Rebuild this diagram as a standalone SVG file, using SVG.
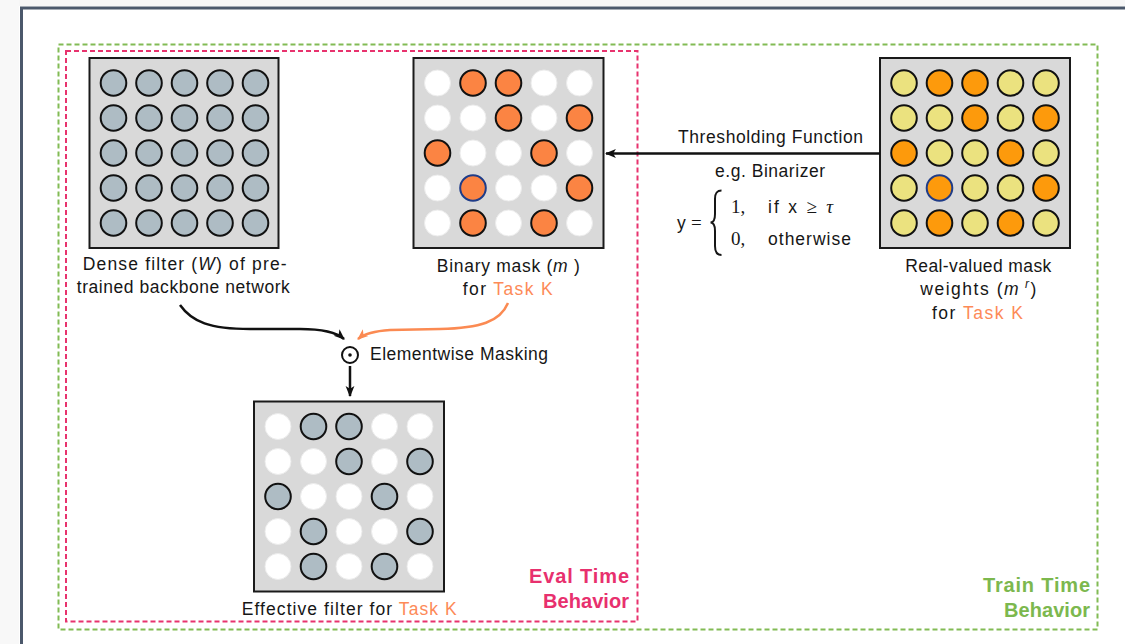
<svg xmlns="http://www.w3.org/2000/svg" width="1125" height="644" viewBox="0 0 1125 644">
<style>
.t{font-family:"Liberation Sans",Arial,sans-serif;font-size:17.5px;fill:#161616}
.s{font-family:"Liberation Serif","Times New Roman",serif;font-size:19px;fill:#161616}
.tk{fill:#fd8a57}
.ev{font-family:"Liberation Sans",Arial,sans-serif;font-size:20px;font-weight:bold;fill:#e8306e}
.tr{font-family:"Liberation Sans",Arial,sans-serif;font-size:20px;font-weight:bold;fill:#7cb84e}
.grid{fill:#d9d9d9;stroke:#1a1a1a;stroke-width:2}
.g{fill:#aebcc4;stroke:#111;stroke-width:2}
.w{fill:#fff;stroke:#ececec;stroke-width:1}
.o{fill:#fb8443;stroke:#111;stroke-width:2}
.ob{fill:#fb8443;stroke:#1f3c88;stroke-width:2}
.y{fill:#ebe27f;stroke:#111;stroke-width:2}
.d{fill:#fd9a0c;stroke:#111;stroke-width:2}
.db{fill:#fd9a0c;stroke:#1f3c88;stroke-width:2}
</style>
<defs>
<marker id="ah" viewBox="0 0 10 10" refX="9" refY="5" markerWidth="11" markerHeight="11" markerUnits="userSpaceOnUse" orient="auto"><path d="M0,1 L10,5 L0,9 L2.5,5 z" fill="#111"/></marker>
<marker id="aho" viewBox="0 0 10 10" refX="9" refY="5" markerWidth="11" markerHeight="11" markerUnits="userSpaceOnUse" orient="auto"><path d="M0,1 L10,5 L0,9 L2.5,5 z" fill="#fb8a52"/></marker>
</defs>
<rect x="0" y="0" width="1125" height="644" fill="#fff"/>
<rect x="0" y="0" width="1125" height="6" fill="#f6f6f6"/>
<rect x="0" y="0" width="19" height="644" fill="#f8f8f8"/>
<path d="M21.5,660 L21.5,8 L1140,8" fill="none" stroke="#4b586b" stroke-width="3"/>

<g id="train-box">
<rect x="58.5" y="44.5" width="1039" height="585" fill="none" stroke="#82bb55" stroke-width="2" stroke-dasharray="5,3"/>
<text class="tr" x="1090" y="591.5" text-anchor="end" textLength="107" lengthAdjust="spacing">Train Time</text>
<text class="tr" x="1090" y="616.5" text-anchor="end" textLength="86" lengthAdjust="spacing">Behavior</text>
</g>
<g id="eval-box">
<rect x="66" y="51" width="571.5" height="570.5" fill="none" stroke="#e8336e" stroke-width="2" stroke-dasharray="5,3"/>
<text class="ev" x="629" y="583" text-anchor="end" textLength="100" lengthAdjust="spacing">Eval Time</text>
<text class="ev" x="629" y="608" text-anchor="end" textLength="86" lengthAdjust="spacing">Behavior</text>
</g>

<g id="dense-filter">
<rect class="grid" x="89.5" y="58" width="189" height="190"/>
<circle class="g" cx="113.5" cy="83" r="12.8"/><circle class="g" cx="149" cy="83" r="12.8"/><circle class="g" cx="184.5" cy="83" r="12.8"/><circle class="g" cx="220" cy="83" r="12.8"/><circle class="g" cx="255.5" cy="83" r="12.8"/>
<circle class="g" cx="113.5" cy="118" r="12.8"/><circle class="g" cx="149" cy="118" r="12.8"/><circle class="g" cx="184.5" cy="118" r="12.8"/><circle class="g" cx="220" cy="118" r="12.8"/><circle class="g" cx="255.5" cy="118" r="12.8"/>
<circle class="g" cx="113.5" cy="153" r="12.8"/><circle class="g" cx="149" cy="153" r="12.8"/><circle class="g" cx="184.5" cy="153" r="12.8"/><circle class="g" cx="220" cy="153" r="12.8"/><circle class="g" cx="255.5" cy="153" r="12.8"/>
<circle class="g" cx="113.5" cy="188" r="12.8"/><circle class="g" cx="149" cy="188" r="12.8"/><circle class="g" cx="184.5" cy="188" r="12.8"/><circle class="g" cx="220" cy="188" r="12.8"/><circle class="g" cx="255.5" cy="188" r="12.8"/>
<circle class="g" cx="113.5" cy="223" r="12.8"/><circle class="g" cx="149" cy="223" r="12.8"/><circle class="g" cx="184.5" cy="223" r="12.8"/><circle class="g" cx="220" cy="223" r="12.8"/><circle class="g" cx="255.5" cy="223" r="12.8"/>
<text class="t" x="184.7" y="269.5" text-anchor="middle" textLength="204" lengthAdjust="spacing">Dense filter (<tspan font-style="italic">W</tspan>) of pre-</text>
<text class="t" x="183.3" y="292.7" text-anchor="middle" textLength="213" lengthAdjust="spacing">trained backbone network</text>
</g>

<g id="binary-mask">
<rect class="grid" x="413.5" y="58" width="190" height="190"/>
<circle class="w" cx="437.5" cy="83" r="13"/><circle class="o" cx="473" cy="83" r="12.8"/><circle class="o" cx="508.5" cy="83" r="12.8"/><circle class="w" cx="544" cy="83" r="13"/><circle class="w" cx="579.5" cy="83" r="13"/>
<circle class="w" cx="437.5" cy="118" r="13"/><circle class="w" cx="473" cy="118" r="13"/><circle class="o" cx="508.5" cy="118" r="12.8"/><circle class="w" cx="544" cy="118" r="13"/><circle class="o" cx="579.5" cy="118" r="12.8"/>
<circle class="o" cx="437.5" cy="153" r="12.8"/><circle class="w" cx="473" cy="153" r="13"/><circle class="w" cx="508.5" cy="153" r="13"/><circle class="o" cx="544" cy="153" r="12.8"/><circle class="w" cx="579.5" cy="153" r="13"/>
<circle class="w" cx="437.5" cy="188" r="13"/><circle class="ob" cx="473" cy="188" r="12.8"/><circle class="w" cx="508.5" cy="188" r="13"/><circle class="w" cx="544" cy="188" r="13"/><circle class="o" cx="579.5" cy="188" r="12.8"/>
<circle class="w" cx="437.5" cy="223" r="13"/><circle class="o" cx="473" cy="223" r="12.8"/><circle class="w" cx="508.5" cy="223" r="13"/><circle class="o" cx="544" cy="223" r="12.8"/><circle class="w" cx="579.5" cy="223" r="13"/>
<text class="t" x="508.3" y="271.7" text-anchor="middle" textLength="143" lengthAdjust="spacing">Binary mask (<tspan font-style="italic">m</tspan> )</text>
<text class="t" x="507.8" y="295" text-anchor="middle" textLength="90" lengthAdjust="spacing">for <tspan class="tk">Task K</tspan></text>
</g>

<g id="real-valued-mask">
<rect class="grid" x="880" y="58" width="190" height="190"/>
<circle class="y" cx="904" cy="83" r="12.8"/><circle class="d" cx="939.5" cy="83" r="12.8"/><circle class="d" cx="975" cy="83" r="12.8"/><circle class="y" cx="1010.5" cy="83" r="12.8"/><circle class="y" cx="1046" cy="83" r="12.8"/>
<circle class="y" cx="904" cy="118" r="12.8"/><circle class="y" cx="939.5" cy="118" r="12.8"/><circle class="d" cx="975" cy="118" r="12.8"/><circle class="y" cx="1010.5" cy="118" r="12.8"/><circle class="d" cx="1046" cy="118" r="12.8"/>
<circle class="d" cx="904" cy="153" r="12.8"/><circle class="y" cx="939.5" cy="153" r="12.8"/><circle class="y" cx="975" cy="153" r="12.8"/><circle class="d" cx="1010.5" cy="153" r="12.8"/><circle class="y" cx="1046" cy="153" r="12.8"/>
<circle class="y" cx="904" cy="188" r="12.8"/><circle class="db" cx="939.5" cy="188" r="12.8"/><circle class="y" cx="975" cy="188" r="12.8"/><circle class="y" cx="1010.5" cy="188" r="12.8"/><circle class="d" cx="1046" cy="188" r="12.8"/>
<circle class="y" cx="904" cy="223" r="12.8"/><circle class="d" cx="939.5" cy="223" r="12.8"/><circle class="y" cx="975" cy="223" r="12.8"/><circle class="d" cx="1010.5" cy="223" r="12.8"/><circle class="y" cx="1046" cy="223" r="12.8"/>
<text class="t" x="978.3" y="271.7" text-anchor="middle" textLength="146" lengthAdjust="spacing">Real-valued mask</text>
<text class="t" x="978.3" y="295" text-anchor="middle" textLength="116" lengthAdjust="spacing">weights (<tspan font-style="italic">m</tspan><tspan font-style="italic" font-size="12" dy="-7"> r</tspan><tspan dy="7">)</tspan></text>
<text class="t" x="977.5" y="319" text-anchor="middle" textLength="91" lengthAdjust="spacing">for <tspan class="tk">Task K</tspan></text>
</g>

<g id="masking-op">
<circle cx="350" cy="355" r="8" fill="#fff" stroke="#111" stroke-width="2"/>
<circle cx="350" cy="355" r="1.8" fill="#111"/>
<text class="t" x="370" y="360" textLength="178" lengthAdjust="spacing">Elementwise Masking</text>
</g>

<g id="effective-filter">
<rect class="grid" x="254" y="401.5" width="190" height="190"/>
<circle class="w" cx="278" cy="426.5" r="13"/><circle class="g" cx="313.5" cy="426.5" r="12.8"/><circle class="g" cx="349" cy="426.5" r="12.8"/><circle class="w" cx="384.5" cy="426.5" r="13"/><circle class="w" cx="420" cy="426.5" r="13"/>
<circle class="w" cx="278" cy="461.5" r="13"/><circle class="w" cx="313.5" cy="461.5" r="13"/><circle class="g" cx="349" cy="461.5" r="12.8"/><circle class="w" cx="384.5" cy="461.5" r="13"/><circle class="g" cx="420" cy="461.5" r="12.8"/>
<circle class="g" cx="278" cy="496.5" r="12.8"/><circle class="w" cx="313.5" cy="496.5" r="13"/><circle class="w" cx="349" cy="496.5" r="13"/><circle class="g" cx="384.5" cy="496.5" r="12.8"/><circle class="w" cx="420" cy="496.5" r="13"/>
<circle class="w" cx="278" cy="531.5" r="13"/><circle class="g" cx="313.5" cy="531.5" r="12.8"/><circle class="w" cx="349" cy="531.5" r="13"/><circle class="w" cx="384.5" cy="531.5" r="13"/><circle class="g" cx="420" cy="531.5" r="12.8"/>
<circle class="w" cx="278" cy="566.5" r="13"/><circle class="g" cx="313.5" cy="566.5" r="12.8"/><circle class="w" cx="349" cy="566.5" r="13"/><circle class="g" cx="384.5" cy="566.5" r="12.8"/><circle class="w" cx="420" cy="566.5" r="13"/>
<text class="t" x="349.2" y="615" text-anchor="middle" textLength="215" lengthAdjust="spacing">Effective filter for <tspan class="tk">Task K</tspan></text>
</g>

<g id="threshold-label">
<text class="t" x="770.5" y="143" text-anchor="middle" textLength="185" lengthAdjust="spacing">Thresholding Function</text>
<text class="t" x="770" y="177" text-anchor="middle" textLength="110" lengthAdjust="spacing">e.g. Binarizer</text>
<text class="t" x="677" y="229">y</text>
<text class="s" x="691" y="229">=</text>
<path d="M721.5,190.5 C716,190.5 715,194 715,199 L715,214 C715,219.5 714,222.5 710.5,222.5 C714,222.5 715,225.5 715,231 L715,246 C715,251 716,255 721.5,255" fill="none" stroke="#161616" stroke-width="2"/>
<text class="s" x="731" y="213">1,</text>
<text class="t" x="768" y="213" textLength="65" lengthAdjust="spacing">if x <tspan class="s">≥</tspan> <tspan class="s" font-style="italic">τ</tspan></text>
<text class="s" x="731" y="245">0,</text>
<text class="t" x="768" y="245" textLength="83" lengthAdjust="spacing">otherwise</text>
</g>

<g id="connectors" fill="none">
<line x1="880" y1="153.5" x2="606" y2="153.5" stroke="#111" stroke-width="2.5" marker-end="url(#ah)"/>
<path d="M180,305 C192,322 210,329 250,329 L300,329 C320,329 335,331 344,339" stroke="#111" stroke-width="2.5" marker-end="url(#ah)"/>
<path d="M508,303 C500,322 480,328 440,329 L390,330 C375,331 364,334 358,339" stroke="#fb8a52" stroke-width="2.5" marker-end="url(#aho)"/>
<line x1="350" y1="366" x2="350" y2="396" stroke="#111" stroke-width="2.5" marker-end="url(#ah)"/>
</g>
</svg>
